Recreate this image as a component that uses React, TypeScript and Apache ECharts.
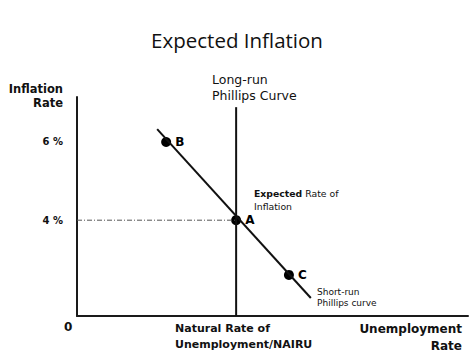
import React, { useEffect, useRef } from "react";
import * as echarts from "echarts";

const yTicks = [4, 6];
const lrpcLine: [number, number][] = [[40.7, 1.55], [40.7, 6.89]];
const srpcLine: [number, number][] = [[20.5, 6.33], [59.8, 2.01]];
const expectedLine: [number, number][] = [[0, 4], [40.7, 4]];
const pointNames = ["B", "A", "C"];
const pointX = [22.8, 40.7, 54.2];
const pointY = [6.0, 4.0, 2.6];

const BOLD = "'DejaVu Sans', Verdana, sans-serif";

export default function App() {
  const ref = useRef<HTMLDivElement>(null);
  useEffect(() => {
    if (!ref.current) return;
    const chart = echarts.init(ref.current, undefined, { renderer: "svg" });
    chart.setOption({
      animation: false,
      backgroundColor: "#fff",
      title: {
        text: "Expected Inflation",
        left: "center",
        top: 24,
        textStyle: { fontFamily: "'Open Sans', sans-serif", fontWeight: "normal", fontSize: 20.5, color: "#111" },
      },
      grid: { left: 77, right: 6, top: 97, bottom: 39 },
      xAxis: {
        type: "value",
        min: 0,
        max: 100,
        axisLine: { lineStyle: { color: "#1a1a1a", width: 2 } },
        axisTick: { show: false },
        axisLabel: { show: false },
        splitLine: { show: false },
      },
      yAxis: {
        type: "value",
        min: 1.55,
        max: 7.15,
        axisLine: { show: true, lineStyle: { color: "#1a1a1a", width: 2 } },
        axisTick: { show: false },
        splitLine: { show: false },
        axisLabel: {
          customValues: yTicks,
          formatter: (v: number) => `${v} %`,
          fontFamily: BOLD,
          fontWeight: "bold",
          fontSize: 10,
          color: "#111",
          margin: 14,
        },
      },
      graphic: [
        { type: "text", x: 63, y: 82, style: { text: "Inflation\nRate", fontFamily: BOLD, fontWeight: "bold", fontSize: 11.5, lineHeight: 14, fill: "#111", align: "right" } },
        { type: "text", left: 64, top: 321, style: { text: "0", fontFamily: BOLD, fontWeight: "bold", fontSize: 12, fill: "#111" } },
        { type: "text", left: 175, top: 320, style: { text: "Natural Rate of\nUnemployment/NAIRU", fontFamily: BOLD, fontWeight: "bold", fontSize: 11, lineHeight: 16, fill: "#111" } },
        { type: "text", x: 462, y: 320, style: { text: "Unemployment\nRate", fontFamily: BOLD, fontWeight: "bold", fontSize: 12, lineHeight: 17, fill: "#111", align: "right" } },
        { type: "text", left: 212, top: 71, style: { text: "Long-run\nPhillips Curve", fontFamily: BOLD, fontSize: 12.5, lineHeight: 16, fill: "#111" } },
        { type: "text", left: 254, top: 187, style: { text: [`{b|Expected} Rate of`, "Inflation"].join("\n"), fontFamily: BOLD, fontSize: 9.3, lineHeight: 13, fill: "#111", rich: { b: { fontFamily: BOLD, fontWeight: "bold", fontSize: 9.3, fill: "#111" } } } },
        { type: "text", left: 317, top: 286, style: { text: "Short-run\nPhillips curve", fontFamily: BOLD, fontSize: 9, lineHeight: 11, fill: "#111" } },
      ],
      series: [
        {
          type: "line",
          data: lrpcLine,
          symbol: "none",
          lineStyle: { color: "#111", width: 2 },
        },
        {
          type: "line",
          data: srpcLine,
          symbol: "none",
          lineStyle: { color: "#111", width: 2 },
        },
        {
          type: "line",
          data: expectedLine,
          symbol: "none",
          lineStyle: { color: "#555", width: 1, type: [5, 2, 1, 2] },
        },
        {
          type: "scatter",
          data: pointNames.map((n, i) => ({ name: n, value: [pointX[i], pointY[i]] })),
          symbolSize: 10,
          itemStyle: { color: "#000", opacity: 1 },
          label: {
            show: true,
            position: "right",
            distance: 4,
            formatter: (p: any) => p.name,
            fontFamily: BOLD,
            fontWeight: "bold",
            fontSize: 12,
            color: "#000",
          },
        },
      ],
    });
    return () => chart.dispose();
  }, []);
  return <div ref={ref} style={{ width: 474, height: 355, position: "absolute", left: 0, top: 0 }} />;
}
